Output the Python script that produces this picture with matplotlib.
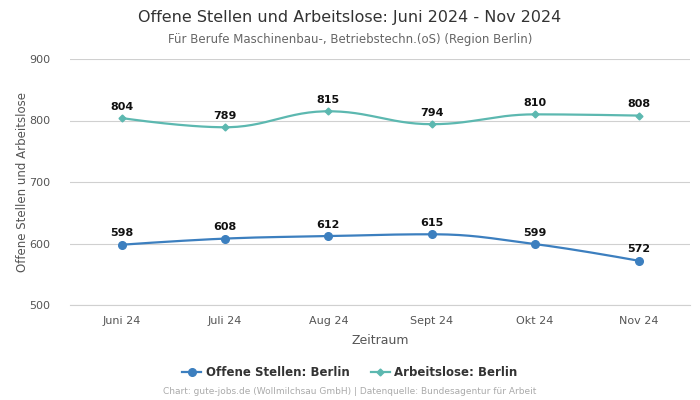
import numpy as np
import matplotlib
matplotlib.use("Agg")
import matplotlib.pyplot as plt
from matplotlib.lines import Line2D

categories = ["Juni 24", "Juli 24", "Aug 24", "Sept 24", "Okt 24", "Nov 24"]
offene = [598, 608, 612, 615, 599, 572]
arbeitslose = [804, 789, 815, 794, 810, 808]
yticks = [500, 600, 700, 800, 900]

c_off = "#3c7fbf"
c_arb = "#5cb8b0"


def spline_path(xs, ys, smoothing=1.5, n=30):
    xs = list(map(float, xs)); ys = list(map(float, ys))
    m = len(xs)
    lc = [None] * m
    rc = [None] * m
    denom = smoothing + 1
    for i in range(1, m - 1):
        px, py = xs[i], ys[i]
        lx, ly = xs[i - 1], ys[i - 1]
        nx, ny = xs[i + 1], ys[i + 1]
        lcx = (smoothing * px + lx) / denom
        lcy = (smoothing * py + ly) / denom
        rcx = (smoothing * px + nx) / denom
        rcy = (smoothing * py + ny) / denom
        if rcx != lcx:
            corr = ((rcy - lcy) * (rcx - px)) / (rcx - lcx) + py - rcy
            lcy += corr
            rcy += corr
        if lcy > ly and lcy > py:
            lcy = max(ly, py); rcy = 2 * py - lcy
        elif lcy < ly and lcy < py:
            lcy = min(ly, py); rcy = 2 * py - lcy
        if rcy > ny and rcy > py:
            rcy = max(ny, py); lcy = 2 * py - rcy
        elif rcy < ny and rcy < py:
            rcy = min(ny, py); lcy = 2 * py - rcy
        lc[i] = (lcx, lcy)
        rc[i] = (rcx, rcy)
    outx, outy = [], []
    t = np.linspace(0, 1, n)
    for i in range(1, m):
        p0 = (xs[i - 1], ys[i - 1])
        p1 = rc[i - 1] if rc[i - 1] is not None else p0
        p3 = (xs[i], ys[i])
        p2 = lc[i] if lc[i] is not None else p3
        bx = (1 - t) ** 3 * p0[0] + 3 * (1 - t) ** 2 * t * p1[0] + 3 * (1 - t) * t ** 2 * p2[0] + t ** 3 * p3[0]
        by = (1 - t) ** 3 * p0[1] + 3 * (1 - t) ** 2 * t * p1[1] + 3 * (1 - t) * t ** 2 * p2[1] + t ** 3 * p3[1]
        outx.extend(bx); outy.extend(by)
    return np.array(outx), np.array(outy)


fig = plt.figure(figsize=(7, 4), dpi=100)
ax = fig.add_axes([0.1, 0.2375, 0.886, 0.615])

x = np.arange(len(categories))
for vals, col, mk, ms in [(arbeitslose, c_arb, "D", 3.5), (offene, c_off, "o", 5.5)]:
    sx, sy = spline_path(x, vals)
    ax.plot(sx, sy, color=col, lw=1.6, zorder=3, solid_capstyle="round")
    ax.plot(x, vals, ls="none", marker=mk, ms=ms, color=col, zorder=4)
    for xi, v in zip(x, vals):
        ax.annotate(str(v), (xi, v), xytext=(0, 4.5), textcoords="offset points",
                    ha="center", va="bottom", fontsize=8, fontweight="bold", color="#111111", zorder=5)

ax.set_xlim(-0.5, len(categories) - 0.5)
ax.set_ylim(500, 900)
ax.set_yticks(yticks)
ax.set_xticks(x)
ax.set_xticklabels(categories)
ax.grid(axis="y", color="#d0d0d0", lw=0.8)
ax.set_axisbelow(True)
for s in ax.spines.values():
    s.set_visible(False)
ax.spines["bottom"].set_visible(True)
ax.spines["bottom"].set_color("#d0d0d0")
ax.tick_params(axis="both", length=0, labelsize=8, colors="#555555", pad=8)
ax.tick_params(axis="y", pad=14)
ax.set_xlabel("Zeitraum", fontsize=9, color="#555555", labelpad=6)
ax.set_ylabel("Offene Stellen und Arbeitslose", fontsize=8.5, color="#555555", labelpad=0)

fig.text(0.5, 0.957, "Offene Stellen und Arbeitslose: Juni 2024 - Nov 2024", ha="center", va="center",
         fontsize=11.5, color="#333333")
fig.text(0.5, 0.902, "Für Berufe Maschinenbau-, Betriebstechn.(oS) (Region Berlin)", ha="center", va="center",
         fontsize=8.5, color="#666666")

handles = [Line2D([0], [0], color=c_off, marker="o", ms=5.5, lw=1.6),
           Line2D([0], [0], color=c_arb, marker="D", ms=3.5, lw=1.6)]
fig.legend(handles, ["Offene Stellen: Berlin", "Arbeitslose: Berlin"], loc="center",
           bbox_to_anchor=(0.5, 0.068), ncol=2, frameon=False, handlelength=1.6,
           columnspacing=1.8, handletextpad=0.4,
           prop={"size": 8.5, "weight": "bold"}, labelcolor="#333333")
fig.text(0.5, 0.02, "Chart: gute-jobs.de (Wollmilchsau GmbH) | Datenquelle: Bundesagentur für Arbeit",
         ha="center", va="center", fontsize=6.5, color="#aaaaaa")

fig.savefig("out.png", dpi=100)
